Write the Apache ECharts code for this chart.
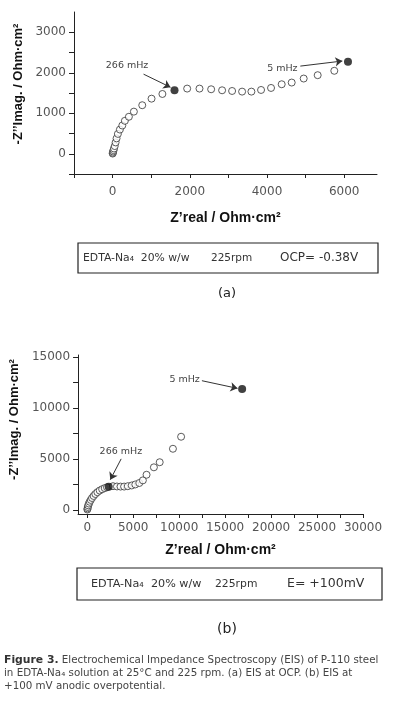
<!DOCTYPE html>
<html><head><meta charset="utf-8">
<script src="https://cdn.jsdelivr.net/npm/echarts@6/dist/echarts.min.js"></script>
<style>html,body{margin:0;padding:0;background:#fff}#c{width:393px;height:709px}</style>
</head><body><div id="c"></div>
<script>
// ---- Panel (a): EIS at OCP ----
const aReal = [2,6,14,24,36,55,78,103,137,189,251,318,422,551,768,1009,1290,1932,2251,2553,2837,3096,3355,3596,3846,4105,4381,4640,4951,5313,5744];
const aImag = [5,25,55,90,130,190,280,380,490,597,697,813,913,1040,1198,1360,1476,1609,1609,1592,1567,1550,1534,1534,1575,1625,1716,1758,1857,1940,2048];
const aFillReal = [1604, 6098];
const aFillImag = [1567, 2271];
const aXTicks = [-1000,0,1000,2000,3000,4000,5000,6000];
const aXLabels = [0,2000,4000,6000];
const aYTicks = [-500,0,500,1000,1500,2000,2500,3000];
const aYLabels = [0,1000,2000,3000];

// ---- Panel (b): EIS at +100 mV ----
const bReal = [10,30,60,110,180,270,380,520,690,880,1100,1350,1620,1900,2150,2800,3230,3620,4010,4410,4840,5230,5660,6050,6450,7250,7880,9320,10210];
const bImag = [40,150,290,450,620,800,980,1170,1370,1560,1740,1900,2030,2140,2220,2330,2300,2290,2290,2330,2400,2500,2640,2900,3450,4180,4680,6000,7180];
const bFillReal = [2333, 16849];
const bFillImag = [2273, 11858];
const bXTicks = [0,2500,5000,7500,10000,12500,15000,17500,20000,22500,25000,27500,30000];
const bXLabels = [0,5000,10000,15000,20000,25000,30000];
const bYTicks = [0,2500,5000,7500,10000,12500,15000];
const bYLabels = [0,5000,10000,15000];

const zip = (xs, ys) => xs.map((x, i) => [x, ys[i]]);
const AX = '#222', LBL = '#555';
const yName = '-Z\u2019\u2019Imag. / Ohm\u00b7cm\u00b2';
const xName = 'Z\u2019real / Ohm\u00b7cm\u00b2';
const plain = v => String(v);

function xAxis(grid, min, max, ticks, labels, margin, gap) {
  return {
    type: 'value', gridIndex: grid, min, max,
    axisLine: { onZero: false, lineStyle: { color: AX, width: 1 } },
    axisTick: { show: true, length: 4, customValues: ticks, lineStyle: { color: AX } },
    axisLabel: { customValues: labels, formatter: plain, margin, color: LBL, fontFamily: 'DejaVu Sans', fontSize: 12 },
    splitLine: { show: false },
    name: xName, nameLocation: 'middle', nameGap: gap,
    nameTextStyle: { fontFamily: 'Liberation Sans', fontWeight: 'bold', fontSize: 14, color: '#111' }
  };
}
function yAxis(grid, min, max, ticks, labels, gap, pad) {
  return {
    type: 'value', gridIndex: grid, min, max,
    axisLine: { onZero: false, lineStyle: { color: AX, width: 1 } },
    axisTick: { show: true, length: 5, customValues: ticks, lineStyle: { color: AX } },
    axisLabel: { customValues: labels, formatter: plain, margin: 8, color: LBL, fontFamily: 'DejaVu Sans', fontSize: 12 },
    splitLine: { show: false },
    name: yName, nameLocation: 'middle', nameGap: gap, nameRotate: 90,
    nameTextStyle: { fontFamily: 'Liberation Sans', fontWeight: 'bold', fontSize: 13, color: '#111', padding: pad }
  };
}
const openStyle = { color: '#fff', borderColor: '#333', borderWidth: 1 };
const arrowLine = (pairs) => ({
  silent: true, symbol: ['none', 'arrow'], symbolSize: 7,
  lineStyle: { color: '#333', width: 1, type: 'solid' }, label: { show: false },
  data: pairs.map(p => [{ coord: p[0] }, { coord: p[1] }])
});
const textPts = (items) => ({
  silent: true, symbol: 'circle', symbolSize: 0,
  label: { show: true, position: 'inside', formatter: p => p.name, color: '#444', fontFamily: 'DejaVu Sans', fontSize: 9.5 },
  data: items.map(it => ({ name: it[0], coord: it[1] }))
});

const option = {
  animation: false,
  backgroundColor: '#fff',
  grid: [
    { left: 74, top: 12, width: 303, height: 162 },
    { left: 75, top: 355, width: 288, height: 159 }
  ],
  xAxis: [
    xAxis(0, -1000, 6850, aXTicks, aXLabels, 12, 37),
    xAxis(1, -1000, 30000, bXTicks, bXLabels, 8, 29)
  ],
  yAxis: [
    yAxis(0, -500, 3500, aYTicks, aYLabels, 42, [0, 0, 0, 18]),
    yAxis(1, -400, 15200, bYTicks, bYLabels, 43, [0, 0, 0, 30])
  ],
  series: [
    { type: 'scatter', xAxisIndex: 0, yAxisIndex: 0, symbolSize: 7, itemStyle: openStyle, data: zip(aReal, aImag) },
    { type: 'scatter', xAxisIndex: 0, yAxisIndex: 0, symbolSize: 8, itemStyle: { color: '#111' }, data: zip(aFillReal, aFillImag),
      markLine: arrowLine([[[802, 1965], [1500, 1642]], [[4864, 2164], [5951, 2289]]]),
      markPoint: textPts([['266 mHz', [375, 2182]], ['5 mHz', [4398, 2107]]]) },
    { type: 'scatter', xAxisIndex: 1, yAxisIndex: 1, symbolSize: 7, itemStyle: openStyle, data: zip(bReal, bImag) },
    { type: 'scatter', xAxisIndex: 1, yAxisIndex: 1, symbolSize: 8, itemStyle: { color: '#111' }, data: zip(bFillReal, bFillImag),
      markLine: arrowLine([[[3688, 5010], [2505, 2964]], [[12473, 12678], [16344, 11927]]]),
      markPoint: textPts([['266 mHz', [3656, 5731]], ['5 mHz', [10591, 12816]]]) }
  ],
  graphic: [
    { type: 'rect', shape: { x: 78, y: 243, width: 300, height: 30 }, style: { fill: 'none', stroke: '#222', lineWidth: 1.2 } },
    { type: 'text', x: 83, y: 258, style: { text: 'EDTA-Na\u2084  20% w/w', fontFamily: 'DejaVu Sans', fontSize: 10.8, fill: '#333', verticalAlign: 'middle' } },
    { type: 'text', x: 211, y: 258, style: { text: '225rpm', fontFamily: 'DejaVu Sans', fontSize: 10.5, fill: '#333', verticalAlign: 'middle' } },
    { type: 'text', x: 280, y: 258, style: { text: 'OCP= -0.38V', fontFamily: 'DejaVu Sans', fontSize: 12, fill: '#333', verticalAlign: 'middle' } },
    { type: 'text', x: 227, y: 294, style: { text: '(a)', fontFamily: 'DejaVu Sans', fontSize: 13, fill: '#222', align: 'center', verticalAlign: 'middle' } },

    { type: 'rect', shape: { x: 77, y: 568, width: 305, height: 32 }, style: { fill: 'none', stroke: '#222', lineWidth: 1.2 } },
    { type: 'text', x: 91, y: 584, style: { text: 'EDTA-Na\u2084  20% w/w', fontFamily: 'DejaVu Sans', fontSize: 11.2, fill: '#333', verticalAlign: 'middle' } },
    { type: 'text', x: 215, y: 584, style: { text: '225rpm', fontFamily: 'DejaVu Sans', fontSize: 10.8, fill: '#333', verticalAlign: 'middle' } },
    { type: 'text', x: 287, y: 584, style: { text: 'E= +100mV', fontFamily: 'DejaVu Sans', fontSize: 12.5, fill: '#333', verticalAlign: 'middle' } },
    { type: 'text', x: 227, y: 629, style: { text: '(b)', fontFamily: 'DejaVu Sans', fontSize: 14, fill: '#222', align: 'center', verticalAlign: 'middle' } },

    { type: 'text', x: 4, y: 660, style: { text: '{b|Figure 3.} Electrochemical Impedance Spectroscopy (EIS) of P-110 steel', fontFamily: 'DejaVu Sans', fontSize: 10.3, fill: '#444', verticalAlign: 'middle',
      rich: { b: { fontFamily: 'DejaVu Sans', fontSize: 10.8, fontWeight: 'bold', fill: '#333' } } } },
    { type: 'text', x: 4, y: 673, style: { text: 'in EDTA-Na\u2084 solution at 25\u00b0C and 225 rpm. (a) EIS at OCP. (b) EIS at', fontFamily: 'DejaVu Sans', fontSize: 10.3, fill: '#444', verticalAlign: 'middle' } },
    { type: 'text', x: 4, y: 686, style: { text: '+100 mV anodic overpotential.', fontFamily: 'DejaVu Sans', fontSize: 10.3, fill: '#444', verticalAlign: 'middle' } }
  ]
};
const chart = echarts.init(document.getElementById('c'), null, { renderer: 'canvas' });
chart.setOption(option);
</script></body></html>
